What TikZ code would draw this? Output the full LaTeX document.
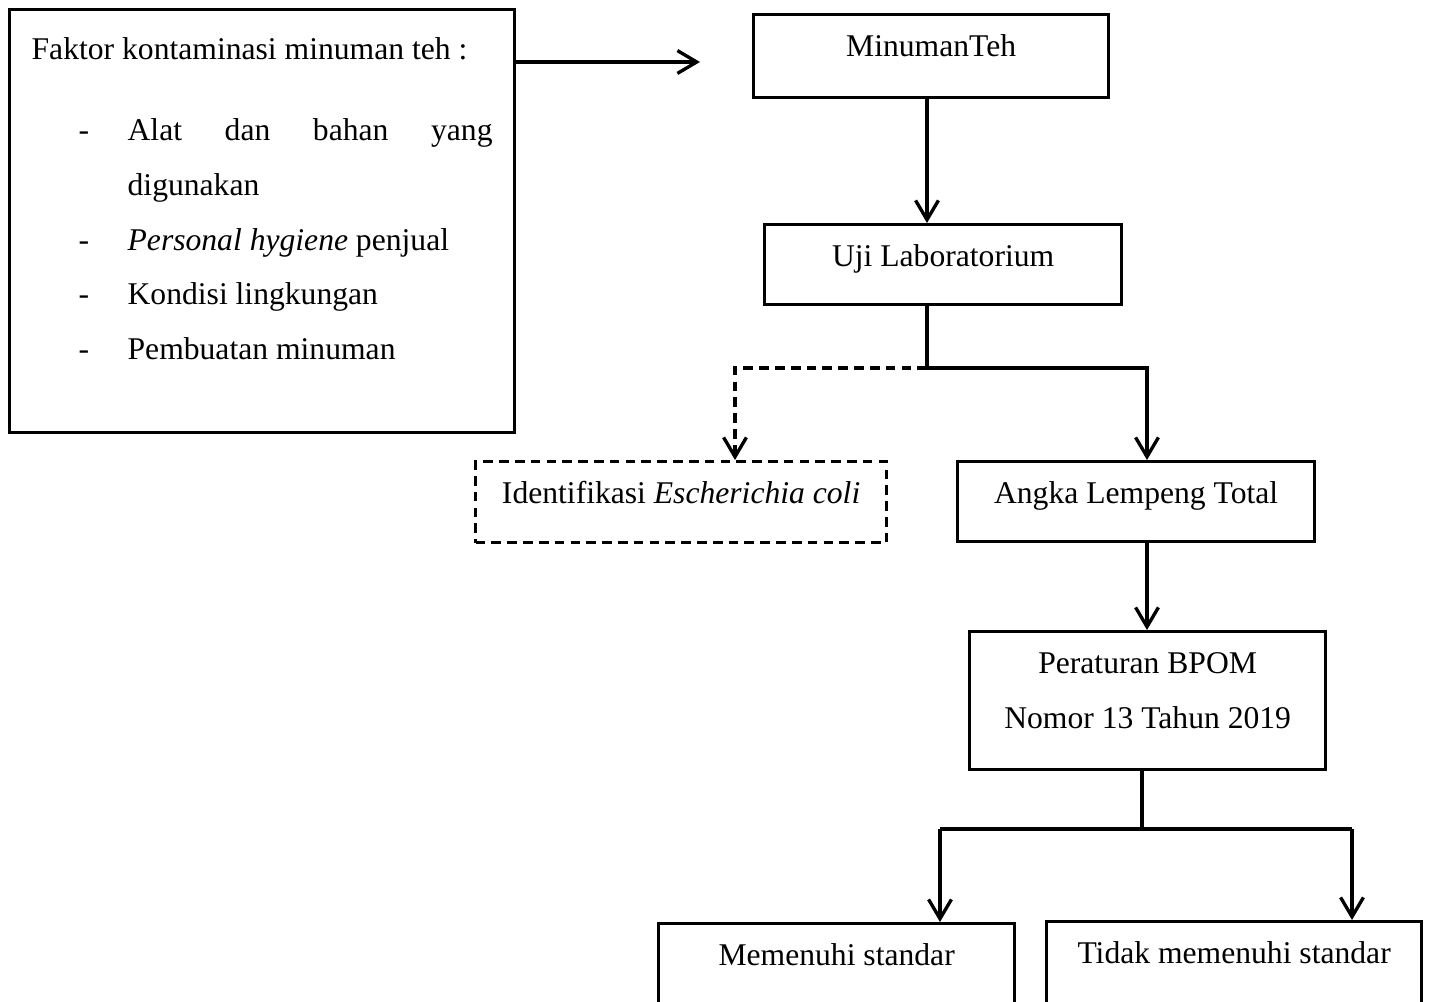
\documentclass[tikz,border=0pt]{standalone}
\usepackage{fontspec}
\setmainfont{Liberation Serif}
\usetikzlibrary{arrows.meta}

\tikzset{
    box/.style={draw=black, line width=1.9pt, inner sep=0pt, anchor=north west, text height=0.84cm},
    link/.style={draw=black, line width=1.9pt},
    arr/.style={link, -{Straight Barb[length=11pt, width=13pt]}},
    dashline/.style={dash pattern=on 5.5pt off 3.5pt}
}

\begin{document}
\begin{tikzpicture}[x=0.02cm, y=-0.02cm, every node/.style={font=\fontsize{18}{31.2}\selectfont}]

    \useasboundingbox (0,0) rectangle (1430,1001);

    % Faktor kontaminasi box
    \node[box, inner xsep=0.44cm, text height=1.0cm, text depth=7.46cm] (faktor) at (8,8) {%
        \begin{minipage}[t]{9.22cm}
        Faktor kontaminasi minuman teh :\\[0.52cm]
        \makebox[1.92cm][l]{\hspace{0.94cm}-}\makebox[7.3cm][s]{Alat dan bahan yang}\\
        \hspace*{1.92cm}digunakan\\
        \makebox[1.92cm][l]{\hspace{0.94cm}-}\textit{Personal hygiene} penjual\\
        \makebox[1.92cm][l]{\hspace{0.94cm}-}Kondisi lingkungan\\
        \makebox[1.92cm][l]{\hspace{0.94cm}-}Pembuatan minuman
        \end{minipage}};

    % Main flow
    \node[box, minimum width=7.1cm, text depth=0.82cm] (minuman) at (752,13) {MinumanTeh};
    \node[box, minimum width=7.14cm, text depth=0.76cm] (uji) at (763,223) {Uji Laboratorium};
    \node[box, dashline, minimum width=8.22cm, text depth=0.78cm] (ecoli) at (474,460) {Identifikasi \textit{Escherichia coli}};
    \node[box, minimum width=7.14cm, text depth=0.76cm] (alt) at (956,460) {Angka Lempeng Total};
    \node[box, minimum width=7.12cm, text depth=1.92cm] (bpom) at (968,630)
        {\begin{tabular}[t]{@{}c@{}}Peraturan BPOM\\Nomor 13 Tahun 2019\end{tabular}};
    \node[box, minimum width=7.12cm, text depth=0.76cm] (memenuhi) at (657,922) {Memenuhi standar};
    \node[box, minimum width=7.5cm, text depth=0.80cm] (tidak) at (1045,920) {Tidak memenuhi standar};

    % Junction points
    \coordinate (tipA) at (700,62);
    \coordinate (split) at (927,368);
    \coordinate (eleft) at (735,368);
    \coordinate (eright) at (1147,368);
    \coordinate (split2) at (1142,829);
    \coordinate (mleft) at (940,829);
    \coordinate (mright) at (1352,829);

    % Connectors
    \draw[arr] (faktor.east |- tipA) -- (tipA);
    \draw[arr] (split |- minuman.south) -- (split |- uji.north);
    \draw[link] (split |- uji.south) -- (split);
    \draw[arr, dashline] (split) -- (eleft) -- (eleft |- ecoli.north);
    \draw[arr] (split) -- (eright) -- (eright |- alt.north);
    \draw[arr] (eright |- alt.south) -- (eright |- bpom.north);
    \draw[link] (split2 |- bpom.south) -- (split2);
    \draw[link] (mleft) -- (mright);
    \draw[arr] (mleft) -- (mleft |- memenuhi.north);
    \draw[arr] (mright) -- (mright |- tidak.north);

\end{tikzpicture}
\end{document}
